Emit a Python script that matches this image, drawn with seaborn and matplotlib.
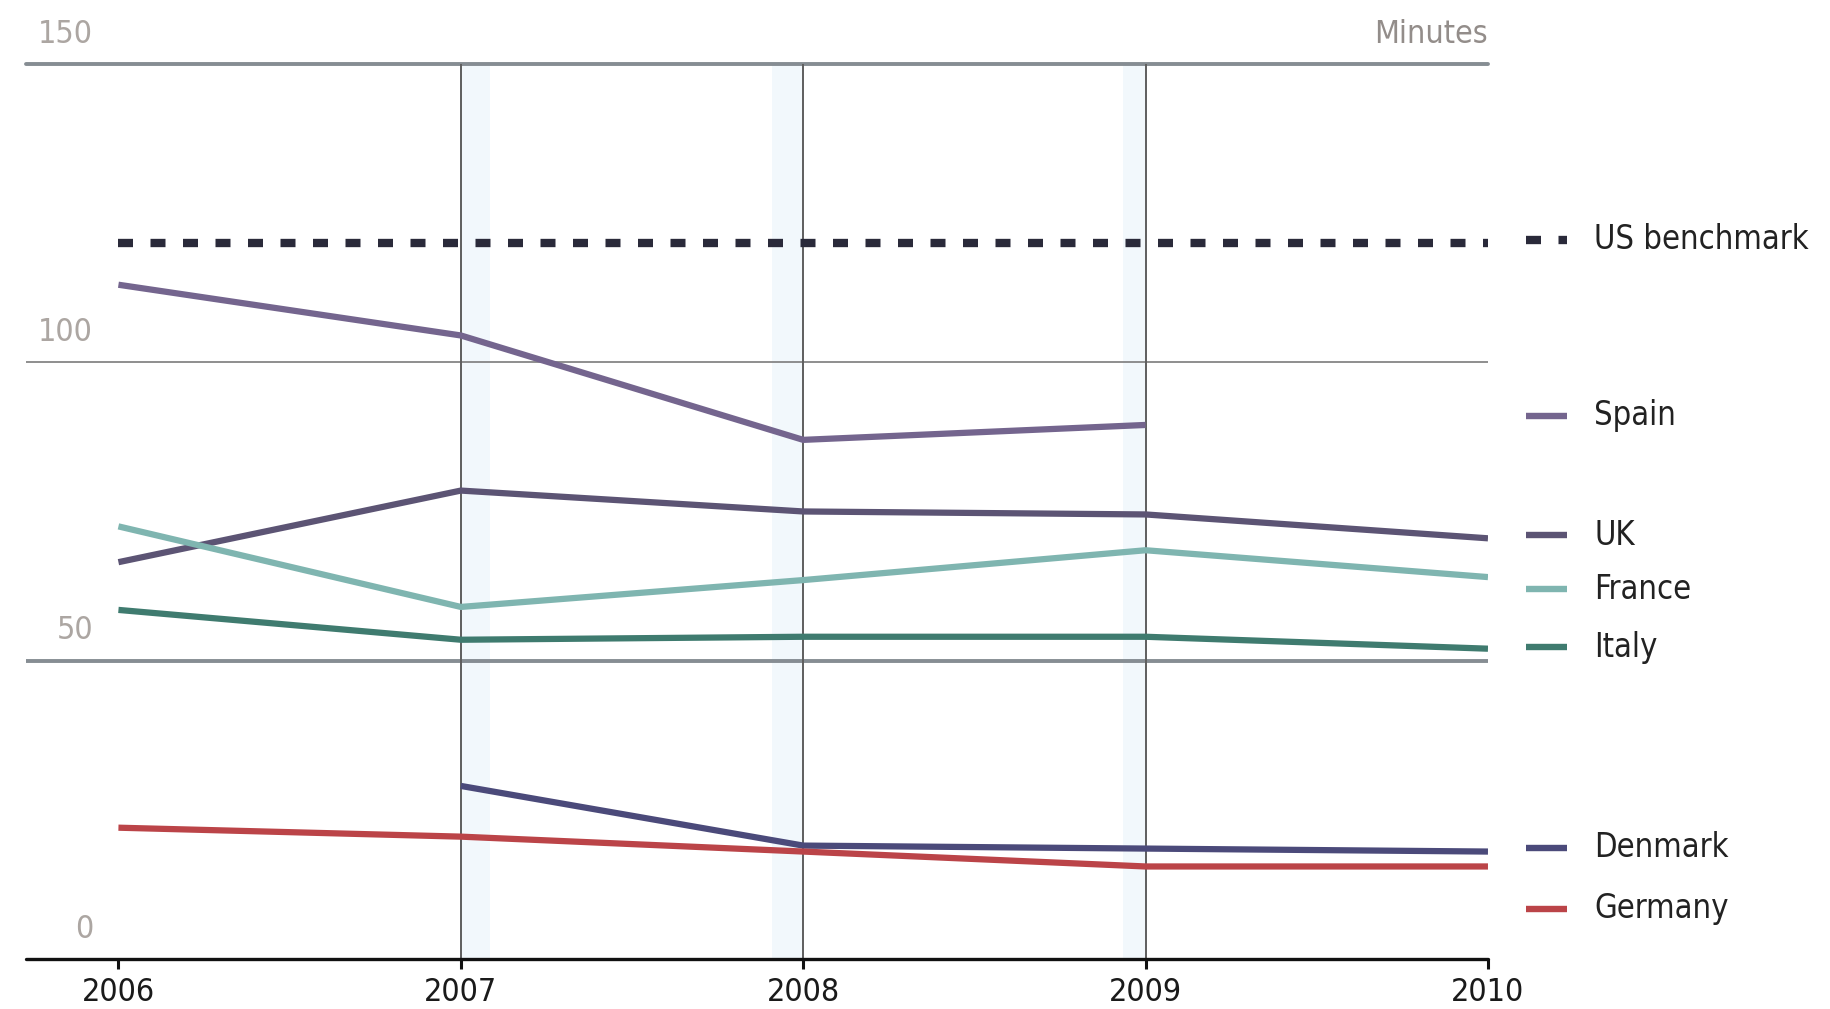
import matplotlib
matplotlib.use("Agg")
import matplotlib.pyplot as plt
import numpy as np
import pandas as pd
import seaborn as sns

# Minutes per year, by country
years = [2006, 2007, 2008, 2009, 2010]
spain = [113.0, 104.5, 87.0, 89.5, np.nan]
uk = [66.5, 78.5, 75.0, 74.5, 70.5]
france = [72.5, 59.0, 63.5, 68.5, 64.0]
italy = [58.5, 53.5, 54.0, 54.0, 52.0]
denmark = [np.nan, 29.0, 19.0, 18.5, 18.0]
germany = [22.0, 20.5, 18.0, 15.5, 15.5]
us_benchmark = [120.0, 120.0, 120.0, 120.0, 120.0]

countries = ["Spain", "UK", "France", "Italy", "Denmark", "Germany"]
series = [spain, uk, france, italy, denmark, germany]
y_ticks = [0, 50, 100, 150]
y_tick_labels = ["0", "50", "100", "150"]
unit_label = "Minutes"
benchmark_label = "US benchmark"
# legend label anchors (value on the y scale)
label_y = {"US benchmark": 120.5, "Spain": 91.0, "UK": 71.0, "France": 62.0,
           "Italy": 52.2, "Denmark": 18.6, "Germany": 8.4}

palette = {
    "Spain": "#74658e",
    "UK": "#5c5474",
    "France": "#7fb5b0",
    "Italy": "#3f7b6f",
    "Denmark": "#4b4a7a",
    "Germany": "#bb4448",
}
us_color = "#2a2a3a"
dash_style = (0, (1.8, 2.1))

sns.set_theme(style="white")
plt.rcParams["font.family"] = ["DejaVu Sans"]

df = pd.DataFrame(
    [(c, yr, v) for c, vals in zip(countries, series) for yr, v in zip(years, vals)],
    columns=["country", "year", "minutes"],
).dropna()
us_df = pd.DataFrame({"year": years, "minutes": us_benchmark})

fig = plt.figure(figsize=(18.3, 10.09), dpi=100)
ax = fig.add_axes([0.0142, 0.0496, 0.7989, 0.887])
ax.set_xlim(2005.73, 2010.0)
ax.set_ylim(0, 150)

# pale bands beside the year rules
for x0, x1 in [(2007.0, 2007.085), (2007.91, 2008.0), (2008.935, 2009.0)]:
    ax.axvspan(x0, x1, color="#f2f8fc", zorder=0, lw=0)

# horizontal rules
ax.axhline(150, color="#868d93", lw=2.8, zorder=1, clip_on=False)
ax.axhline(50, color="#868d93", lw=2.8, zorder=1)
ax.axhline(100, color="#7c7c7c", lw=1.2, zorder=1)
ax.vlines([2007, 2008, 2009], 0, 150, color="#5e5e5e", lw=1.4, zorder=1)

sns.lineplot(data=us_df, x="year", y="minutes", ax=ax, color=us_color, lw=6,
             linestyle=dash_style, dash_capstyle="butt", zorder=3)
sns.lineplot(data=df, x="year", y="minutes", hue="country",
             hue_order=countries, palette=palette, ax=ax, lw=4.5,
             legend=False, zorder=4, solid_capstyle="butt")

ax.axhline(0, color="#111111", lw=2.4, zorder=5, clip_on=False)

for s in ax.spines.values():
    s.set_visible(False)
ax.set_xlabel("")
ax.set_ylabel("")
ax.set_xticks(years)
ax.set_xticklabels([str(y) for y in years], fontsize=23, color="#1a1a1a",
                   fontstretch="condensed")
ax.tick_params(axis="x", direction="out", length=7, width=2.2, color="#111111",
               pad=6, bottom=True)
ax.set_yticks([])

# y value labels sitting above their rules
for v, lab in zip(y_ticks, y_tick_labels):
    ax.text(2005.926, v + 5.0, lab, ha="right", va="center", fontsize=23,
            color="#aca6a2", fontstretch="condensed")
ax.text(2010.0, 155.0, unit_label, ha="right", va="center", fontsize=23,
        color="#938d8a", fontstretch="condensed")

# direct labels at the right
kx0, kx1, tx = 2010.11, 2010.23, 2010.31
ax.plot([kx0, kx1], [label_y[benchmark_label]] * 2, color=us_color, lw=6,
        linestyle=dash_style, dash_capstyle="butt", clip_on=False)
ax.text(tx, label_y[benchmark_label], benchmark_label, ha="left", va="center",
        fontsize=23.5, color="#222222", fontstretch="condensed", clip_on=False)
for c in countries:
    ax.plot([kx0, kx1], [label_y[c]] * 2, color=palette[c], lw=4.6,
            solid_capstyle="butt", clip_on=False)
    ax.text(tx, label_y[c], c, ha="left", va="center", fontsize=23.5,
            color="#222222", fontstretch="condensed", clip_on=False)

fig.savefig("out.png", dpi=100)
